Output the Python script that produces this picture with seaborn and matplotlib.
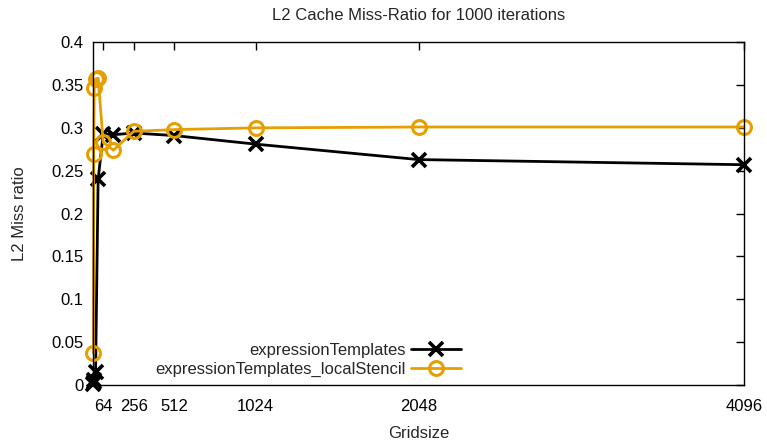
import matplotlib
matplotlib.use("Agg")
import matplotlib.pyplot as plt
import seaborn as sns
import pandas as pd
from matplotlib.ticker import FixedLocator, FuncFormatter

# Grid sizes and L2 miss ratios for the two implementations
gridsize = [2, 4, 8, 16, 32, 64, 128, 256, 512, 1024, 2048, 4096]
expr_templates = [0.001, 0.003, 0.006, 0.015, 0.240, 0.293, 0.292, 0.294, 0.291, 0.281, 0.263, 0.257]
expr_local_stencil = [0.037, 0.270, 0.347, 0.357, 0.358, 0.283, 0.274, 0.296, 0.298, 0.300, 0.301, 0.301]

series_names = ["expressionTemplates", "expressionTemplates_localStencil"]
x_ticks = [64, 256, 512, 1024, 2048, 4096]
y_ticks = [0, 0.05, 0.1, 0.15, 0.2, 0.25, 0.3, 0.35, 0.4]

df = pd.DataFrame({
    "Gridsize": gridsize * 2,
    "ratio": expr_templates + expr_local_stencil,
    "series": [series_names[0]] * len(gridsize) + [series_names[1]] * len(gridsize),
})

FS = 12

sns.set_style("white")
plt.rcParams["font.family"] = ["Liberation Sans", "DejaVu Sans"]
plt.rcParams["font.size"] = FS

fig = plt.figure(figsize=(7.67, 4.44), dpi=100)
ax = fig.add_axes([0.1213, 0.133, 0.8487, 0.772])

styles = {
    series_names[0]: dict(color="#000000", marker="x", markersize=10, mew=2.6, mfc="none", mec="#000000"),
    series_names[1]: dict(color="#E69F00", marker="o", markersize=10, mew=2.2, mfc="none", mec="#E69F00"),
}
for name in series_names:
    sub = df[df["series"] == name]
    sns.lineplot(data=sub, x="Gridsize", y="ratio", ax=ax, lw=2.0, label=name,
                 estimator=None, sort=False, clip_on=False, **styles[name])

ax.set_xlim(0, 4096)
ax.set_ylim(0, 0.4)
ax.xaxis.set_major_locator(FixedLocator(x_ticks))
ax.yaxis.set_major_locator(FixedLocator(y_ticks))
ax.yaxis.set_major_formatter(FuncFormatter(lambda v, p: f"{v:g}"))
ax.tick_params(direction="in", length=6, width=1, top=True, right=True,
               labelsize=FS, colors="black")
ax.tick_params(axis="x", pad=10)
ax.tick_params(axis="y", pad=7)
for s in ax.spines.values():
    s.set_color("black")
    s.set_linewidth(1.0)

ax.set_xlabel("Gridsize", fontsize=FS, labelpad=9)
ax.set_ylabel("L2 Miss ratio", fontsize=FS, labelpad=17)
ax.set_title("L2 Cache Miss-Ratio for 1000 iterations", fontsize=FS, pad=16)

leg = ax.legend(loc="lower right", bbox_to_anchor=(0.576, 0.003), frameon=False,
                markerfirst=False, handlelength=3.0, handletextpad=0.35,
                labelspacing=0.25, fontsize=FS, borderaxespad=0)
for t in leg.get_texts():
    t.set_ha("right")
leg._legend_box.align = "right"

fig.savefig("out.png", dpi=100)
